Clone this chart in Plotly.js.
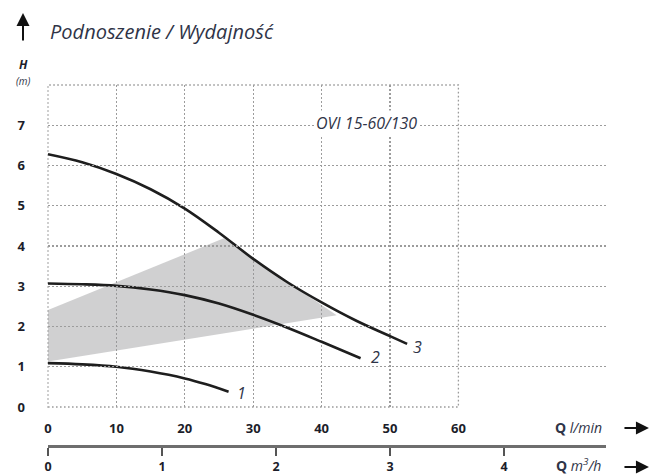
<!DOCTYPE html>
<html>
<head>
<meta charset="utf-8">
<script src="https://cdn.plot.ly/plotly-3.0.1.min.js"></script>
<style>html,body{margin:0;padding:0;background:#fff;}#chart{width:650px;height:475px;}</style>
</head>
<body>
<div id="chart"></div>
<script>
// Curve 1
const q1 = [0, 5, 10, 15, 20, 23, 26.4];
const h1 = [1.09, 1.06, 1.0, 0.88, 0.71, 0.57, 0.38];
// Curve 2
const q2 = [0, 5, 10, 15, 20, 25, 30, 35, 40, 45.7];
const h2 = [3.07, 3.05, 3.01, 2.92, 2.78, 2.57, 2.29, 1.97, 1.62, 1.21];
// Curve 3
const q3 = [0, 5, 10, 15, 20, 25, 30, 35, 40, 45, 50, 52.5];
const h3 = [6.28, 6.08, 5.79, 5.41, 4.93, 4.33, 3.68, 3.10, 2.60, 2.15, 1.76, 1.57];
// Operating area (shaded)
const areaQ = [0, 0, 25.7, 42.2, 0];
const areaH = [1.13, 2.41, 4.19, 2.28, 1.13];
// Ticks
const qTicks = [0, 10, 20, 30, 40, 50, 60];
const hTicks = [0, 1, 2, 3, 4, 5, 6, 7, 8];
const hTickText = ['0', '1', '2', '3', '4', '5', '6', '7', ''];
const m3hTicks = [0, 1, 2, 3, 4];
// Labels
const curveLabels = ['1', '2', '3'];
const labelQ = [28.3, 47.9, 54.0];
const labelH = [0.35, 1.25, 1.5];
const modelName = 'OVI 15-60/130';
const titleText = 'Podnoszenie / Wydajność';

const dark = '#1c1d2a';
const slate = '#2f3447';
const lineStyle = {color: '#1e1e1e', width: 2.6, shape: 'spline', smoothing: 1};

const traces = [
  {x: areaQ, y: areaH, mode: 'lines', fill: 'toself', fillcolor: 'rgba(150,150,154,0.45)',
   line: {width: 0}, hoverinfo: 'skip', showlegend: false},
  {x: q1, y: h1, mode: 'lines', line: lineStyle, showlegend: false},
  {x: q2, y: h2, mode: 'lines', line: lineStyle, showlegend: false},
  {x: q3, y: h3, mode: 'lines', line: lineStyle, showlegend: false},
  {x: [0], y: [null], xaxis: 'x2', yaxis: 'y', mode: 'markers', hoverinfo: 'skip', showlegend: false}
];

const gridColor = '#9c9c9c';
const gridDash = '1.6px,2.4px';
const gridStyle = {gridcolor: gridColor, gridwidth: 1.3, griddash: gridDash};
const tickFont = {family: 'Open Sans, sans-serif', size: 13, weight: 'bold', color: dark};
const fam = 'Open Sans, sans-serif';

function txt(x, y, text, font, extra) {
  return Object.assign({x: x, y: y, xref: 'paper', yref: 'paper', text: text, showarrow: false,
    xanchor: 'center', yanchor: 'middle', font: font}, extra || {});
}
function arrow(x, y, ax, ay) {
  return {x: x, y: y, xref: 'paper', yref: 'paper', text: '', showarrow: true,
    ax: ax, ay: ay, arrowhead: 2, arrowsize: 1.3, arrowwidth: 2, arrowcolor: '#111'};
}

const annotations = [];
curveLabels.forEach((t, i) => annotations.push({
  x: labelQ[i], y: labelH[i], xref: 'x', yref: 'y', text: t, showarrow: false,
  xanchor: 'center', yanchor: 'middle',
  font: {family: fam, size: 16, style: 'italic', color: slate}
}));
annotations.push({x: 46.6, y: 7.05, xref: 'x', yref: 'y', text: modelName, showarrow: false,
  xanchor: 'center', yanchor: 'middle', bgcolor: '#ffffff', borderpad: 1,
  font: {family: fam, size: 16, style: 'italic', color: slate}});
annotations.push(txt(0, 1.147, titleText, {family: fam, size: 20, style: 'italic', color: slate}, {xanchor: 'left'}));
annotations.push(arrow(-0.0448, 1.1994, 0, 29));
annotations.push(txt(-0.0448, 1.056, '<b><i>H</i></b>', {family: fam, size: 12, color: dark}));
annotations.push(txt(-0.0448, 1.010, '<i>(m)</i>', {family: fam, size: 10, color: slate}));
annotations.push(txt(0.9516, 0.0499, '<b>Q</b> <i>l/min</i>', {family: fam, size: 14, color: slate}));
annotations.push(txt(0.9516, -0.0540, '<b>Q</b> <i>m<sup>3</sup>/h</i>', {family: fam, size: 14, color: slate}));
annotations.push(arrow(1.077, 0.0499, -26, 0));
annotations.push(arrow(1.077, -0.058, -26, 0));

const layout = {
  width: 650, height: 475, autosize: false,
  margin: {l: 48, r: 44, t: 85, b: 29},
  paper_bgcolor: '#ffffff', plot_bgcolor: 'rgba(0,0,0,0)',
  showlegend: false,
  xaxis: Object.assign({
    domain: [0, 0.7355], range: [0, 60], tickvals: qTicks, ticks: '', showline: false,
    zeroline: false, tickfont: tickFont, ticklabelstandoff: 12, anchor: 'y'
  }, gridStyle),
  xaxis2: {
    domain: [0, 1], range: [0, 4.895], tickvals: m3hTicks, anchor: 'free', position: 0,
    showline: true, linecolor: '#6e6e6e', linewidth: 3, ticks: 'outside', ticklen: 8,
    tickwidth: 2, tickcolor: '#555', showgrid: false, zeroline: false,
    tickfont: {family: fam, size: 12.5, weight: 'bold', color: dark}, ticklabelstandoff: 0
  },
  yaxis: Object.assign({
    domain: [0.108, 1], range: [0, 8], tickvals: hTicks, ticktext: hTickText, ticks: '',
    showline: false, zeroline: false, tickfont: tickFont, ticklabelstandoff: 22, anchor: 'x'
  }, gridStyle),
  shapes: [{type: 'rect', xref: 'x domain', yref: 'y domain', x0: 0, x1: 1, y0: 0, y1: 1,
    line: {color: gridColor, width: 1.3, dash: gridDash}, fillcolor: 'rgba(0,0,0,0)', layer: 'below'}],
  annotations: annotations
};

Plotly.newPlot('chart', traces, layout, {staticPlot: true, displayModeBar: false});
</script>
</body>
</html>
